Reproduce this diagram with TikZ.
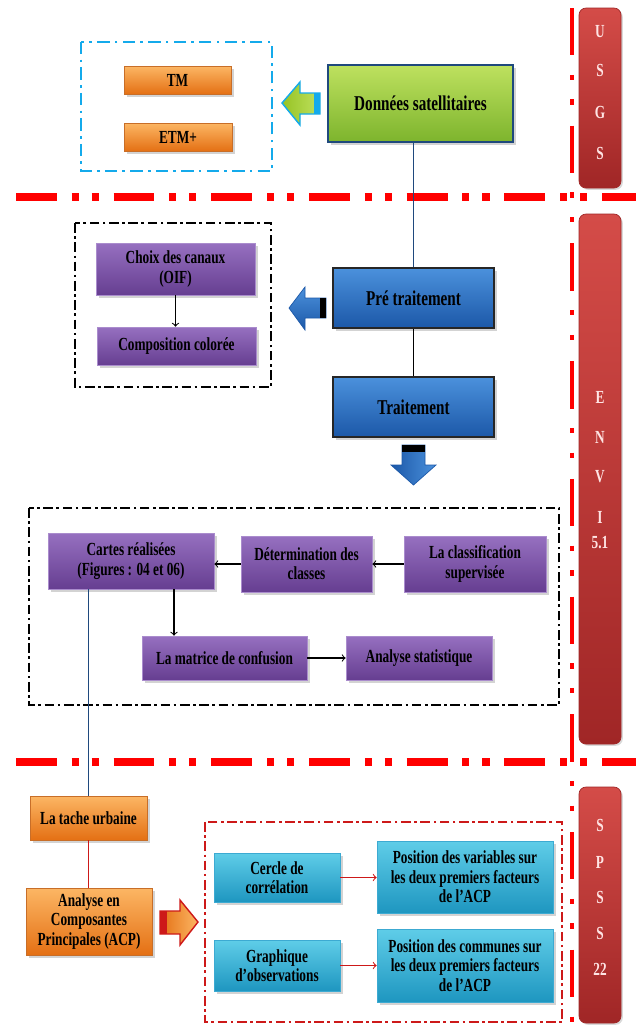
\documentclass[tikz,border=0pt]{standalone}
\usepackage{fontspec}
\setmainfont{Liberation Serif}[FakeStretch=0.72]
\usetikzlibrary{shadows}

\definecolor{orangeH}{RGB}{252,182,100}
\definecolor{orangeB}{RGB}{228,112,20}
\definecolor{orangeL}{RGB}{200,110,40}
\definecolor{vertH}{RGB}{190,225,95}
\definecolor{vertB}{RGB}{125,180,45}
\definecolor{marine}{RGB}{31,73,125}
\definecolor{bleuH}{RGB}{75,145,220}
\definecolor{bleuB}{RGB}{28,88,168}
\definecolor{violetH}{RGB}{150,112,192}
\definecolor{violetB}{RGB}{102,62,145}
\definecolor{violetL}{RGB}{170,140,205}
\definecolor{cyanH}{RGB}{95,205,232}
\definecolor{cyanB}{RGB}{30,150,192}
\definecolor{cyanL}{RGB}{60,170,210}
\definecolor{cadreC}{RGB}{20,170,235}
\definecolor{rougeH}{RGB}{212,76,72}
\definecolor{rougeB}{RGB}{160,38,38}
\definecolor{rougeV}{RGB}{255,0,0}
\definecolor{rougeF}{RGB}{205,25,25}
\definecolor{roseT}{RGB}{255,228,228}

\tikzset{
  taille/.style 2 args={minimum width=#1*0.02cm, minimum height=#2*0.02cm},
  boite/.style={thin, align=center, inner sep=1pt,
    font=\bfseries\fontsize{10.5}{11}\selectfont,
    drop shadow={opacity=0.35, shadow xshift=1.5pt, shadow yshift=-1.5pt}},
  bxorange/.style={boite, draw=orangeL, top color=orangeH, bottom color=orangeB},
  bxvert/.style={boite, draw=marine, line width=1.2pt, top color=vertH, bottom color=vertB,
    font=\bfseries\fontsize{12}{13}\selectfont},
  bxbleu/.style={boite, draw=black!85, line width=1.5pt, top color=bleuH, bottom color=bleuB,
    font=\bfseries\fontsize{12}{13}\selectfont},
  bxviolet/.style={boite, draw=violetL, top color=violetH, bottom color=violetB},
  bxcyan/.style={boite, draw=cyanL, top color=cyanH, bottom color=cyanB},
  barre/.style={rounded corners=4pt, draw=rougeB, top color=rougeH, bottom color=rougeB,
    drop shadow={opacity=0.3, shadow xshift=1pt, shadow yshift=-1pt}},
  lettre/.style={text=roseT, font=\bfseries\fontsize{10.5}{11}\selectfont},
  cadrecyan/.style={draw=cadreC, line width=1.4pt, dash pattern=on 7pt off 3pt on 1.5pt off 3pt},
  cadrenoir/.style={draw=black, line width=1.4pt, dash pattern=on 5.5pt off 2pt on 1.5pt off 2pt},
  cadrerouge/.style={draw=rougeF, line width=1.4pt, dash pattern=on 5.5pt off 2pt on 1.5pt off 2pt},
  limite/.style={draw=rougeV, line width=4pt, dash pattern=on 23.2pt off 8.5pt on 4pt off 7.4pt on 4pt off 8.5pt},
  limitev/.style={draw=rougeV, line width=2.3pt, dash pattern=on 27pt off 11pt on 3pt off 11pt on 3pt off 12pt},
  fleche/.style={->, line width=0.6pt}
}

\begin{document}
\begin{tikzpicture}[x=0.02cm, y=-0.02cm]
  \useasboundingbox (0,0) rectangle (636,1025);

  % Limites des logiciels
  \draw[limite] (16,197) -- (636,197);
  \draw[limite] (16,762) -- (636,762);
  \draw[limitev] (572,8) -- (572,1025);

  % Barres USGS / ENVI / SPSS
  \node[barre, taille={42}{180}] (usgs) at (600,98) {};
  \node[barre, taille={42}{530}] (envi) at (600,479) {};
  \node[barre, taille={42}{236}] (spss) at (600,905) {};
  \foreach \l/\y in {U/32, S/70, G/112, S/153, E/397, N/437, V/477, I/517, 5.1/543,
                     S/825, P/862, S/897, S/933, 22/969}
    \node[lettre] (l-\y) at (600,\y) {\l};

  % Partie USGS
  \draw[cadrecyan] (81,42) rectangle (272,171);
  \node[bxorange, taille={107}{28}] (tm) at (177.5,80) {TM};
  \node[bxorange, taille={108}{28}] (etm) at (178,137) {ETM+};
  \node[bxvert, taille={185}{77}] (sat) at (420.5,103.5) {Données satellitaires};
  \draw[draw=cadreC, thick, left color=vertB!80!yellow, right color=vertH]
    (282,103) -- (300,82) -- (300,93) -- (320,93) -- (320,114) -- (300,114) -- (300,125) -- cycle;
  \fill[cadreC] (314,93) rectangle (320,114);

  % Partie ENVI : pretraitement
  \draw[cadrenoir] (75,223) rectangle (271,387);
  \node[bxviolet, taille={159}{52}] (choix) at (175.5,269) {Choix des canaux\\(OIF)};
  \node[bxviolet, taille={159}{38}] (compo) at (176.5,346) {Composition colorée};
  \node[bxbleu, taille={161}{60}] (pre) at (413.5,298) {Pré traitement};
  \node[bxbleu, taille={161}{60}] (trait) at (413.5,407) {Traitement};
  \draw[draw=bleuB, top color=bleuH, bottom color=bleuB]
    (289,308) -- (305,287) -- (305,298) -- (326,298) -- (326,318) -- (305,318) -- (305,330) -- cycle;
  \fill[black] (320,298) rectangle (326,318);
  \draw[draw=bleuB, left color=bleuB, right color=bleuH]
    (413.5,485) -- (391,465) -- (402,465) -- (402,445) -- (425,445) -- (425,465) -- (436,465) -- cycle;
  \fill[black] (402,445) rectangle (425,452);

  \draw[marine, line width=1pt] (pre.north) -- (pre.north |- sat.south);
  \draw[black, line width=1pt] (pre) -- (trait);
  \draw[fleche] (choix.south) -- (choix.south |- compo.north);

  % Partie ENVI : traitement
  \draw[cadrenoir] (29,508) rectangle (559,705);
  \node[bxviolet, taille={166}{56}] (cartes) at (131,561) {Cartes réalisées\\(Figures : 04 et 06)};
  \node[bxviolet, taille={131}{56}] (determ) at (306.5,564) {Détermination des\\classes};
  \node[bxviolet, taille={142}{56}] (classif) at (475,564) {La classification\\supervisée};
  \node[bxviolet, taille={165}{44}] (matrice) at (224.5,658) {La matrice de confusion};
  \node[bxviolet, taille={146}{44}] (analyse) at (419,658) {Analyse statistique};

  \draw[fleche] (classif) -- (determ);
  \draw[fleche] (determ.west) -- (determ.west -| cartes.east);
  \draw[fleche] ([xshift=0.86cm]cartes.south) -- ([xshift=0.86cm]cartes.south |- matrice.north);
  \draw[fleche] (matrice) -- (analyse);

  % Partie SPSS
  \node[bxorange, taille={117}{44}] (tache) at (88.5,818) {La tache urbaine};
  \node[bxorange, taille={126}{67}] (acp) at (89,921.5) {Analyse en\\Composantes\\Principales (ACP)};
  \draw[draw=rougeF, thick, left color=orangeB, right color=orangeH]
    (198,922) -- (180,900) -- (180,911) -- (160,911) -- (160,934) -- (180,934) -- (180,945) -- cycle;
  \fill[rougeF] (160,911) rectangle (167,934);

  \draw[cadrerouge] (205,822) rectangle (562,1022);
  \node[bxcyan, taille={126}{49}] (cercle) at (277,877.5) {Cercle de\\corrélation};
  \node[bxcyan, taille={176}{72}] (posvar) at (465,877) {Position des variables sur\\les deux premiers facteurs\\de l’ACP};
  \node[bxcyan, taille={126}{51}] (graph) at (277,965.5) {Graphique\\d’observations};
  \node[bxcyan, taille={176}{73}] (poscom) at (465,965.5) {Position des communes sur\\les deux premiers facteurs\\de l’ACP};

  \draw[marine, line width=1pt] (tache.north) -- (tache.north |- cartes.south);
  \draw[rougeF, line width=1pt] (tache.south) -- (tache.south |- acp.north);
  \draw[fleche, rougeF] (cercle.east) -- (cercle.east -| posvar.west);
  \draw[fleche, rougeF] (graph.east) -- (graph.east -| poscom.west);
\end{tikzpicture}
\end{document}
